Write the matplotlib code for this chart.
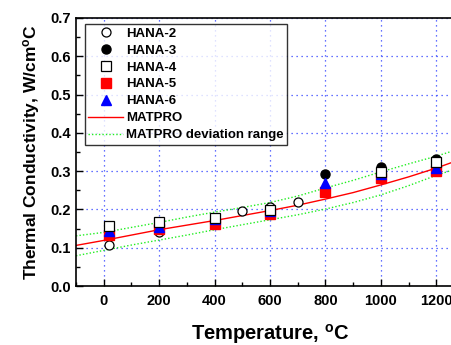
import numpy as np
import matplotlib
matplotlib.use('Agg')
import matplotlib.pyplot as plt
from matplotlib.ticker import MultipleLocator, FormatStrFormatter

plt.rcParams['font.family'] = ['Liberation Sans', 'DejaVu Sans']
plt.rcParams['font.weight'] = 'bold'
plt.rcParams['mathtext.fontset'] = 'custom'
plt.rcParams['mathtext.bf'] = 'Liberation Sans:bold'
plt.rcParams['mathtext.rm'] = 'Liberation Sans'
plt.rcParams['mathtext.default'] = 'rm'

# measured points
t_h2 = [20, 200, 400, 500, 600, 700]
k_h2 = [0.107, 0.140, 0.178, 0.195, 0.206, 0.220]
t_h3 = [800, 1000, 1200]
k_h3 = [0.293, 0.310, 0.332]
t_h4 = [20, 200, 400, 600, 1000, 1200]
k_h4 = [0.158, 0.167, 0.178, 0.198, 0.298, 0.323]
t_h5 = [20, 200, 400, 600, 800, 1000, 1200]
k_h5 = [0.132, 0.150, 0.163, 0.189, 0.246, 0.283, 0.300]
t_h6 = [20, 200, 400, 600, 800, 1000, 1200]
k_h6 = [0.144, 0.154, 0.175, 0.196, 0.270, 0.292, 0.308]

# MATPRO curve and deviation band, read every 100 C
t_mat = [-100, 0, 100, 200, 300, 400, 500, 600, 700, 800, 900, 1000, 1100, 1200, 1300]
k_mat = [0.106, 0.119, 0.133, 0.147, 0.159, 0.171, 0.184, 0.197, 0.211, 0.227,
         0.244, 0.264, 0.285, 0.308, 0.334]
k_up = [0.131, 0.140, 0.153, 0.166, 0.180, 0.193, 0.205, 0.218, 0.235, 0.256,
        0.276, 0.298, 0.319, 0.339, 0.362]
k_lo = [0.079, 0.093, 0.107, 0.120, 0.133, 0.147, 0.160, 0.173, 0.186, 0.201,
        0.218, 0.238, 0.262, 0.289, 0.313]

fig = plt.figure(figsize=(4.52, 3.45), dpi=100)
ax = fig.add_axes([76 / 452, 59 / 345, 388 / 452, 268 / 345])

ax.plot(t_mat, k_mat, color='red', lw=1.0, zorder=2, label='MATPRO')
ax.plot(t_mat, k_up, color='#22ee22', lw=1.0, ls=(0, (1, 1.5)), zorder=2,
        label='MATPRO deviation range')
ax.plot(t_mat, k_lo, color='#22ee22', lw=1.0, ls=(0, (1, 1.5)), zorder=2)

ms = 6.5
ax.plot(t_h2, k_h2, 'o', mfc='white', mec='black', mew=0.9, ms=ms, ls='none', label='HANA-2', zorder=3)
ax.plot(t_h3, k_h3, 'o', mfc='black', mec='black', ms=ms, ls='none', label='HANA-3', zorder=3)
ax.plot(t_h4, k_h4, 's', mfc='white', mec='black', mew=0.9, ms=ms, ls='none', label='HANA-4', zorder=4)
ax.plot(t_h5, k_h5, 's', mfc='red', mec='red', ms=ms, ls='none', label='HANA-5', zorder=3)
ax.plot(t_h6, k_h6, '^', mfc='blue', mec='blue', ms=ms, ls='none', label='HANA-6', zorder=3)

ax.set_xlim(-100, 1300)
ax.set_ylim(0, 0.7)
ax.xaxis.set_major_locator(MultipleLocator(200))
ax.xaxis.set_minor_locator(MultipleLocator(100))
ax.yaxis.set_major_locator(MultipleLocator(0.1))
ax.yaxis.set_minor_locator(MultipleLocator(0.05))
ax.yaxis.set_major_formatter(FormatStrFormatter('%.1f'))
ax.tick_params(which='both', direction='in', labelsize=10.5, width=1)
ax.tick_params(which='major', length=5)
ax.tick_params(which='minor', length=3)
ax.tick_params(axis='x', pad=6)
for s in ax.spines.values():
    s.set_linewidth(1.2)

ax.grid(True, which='major', color='#3344ff', ls=(0, (1, 3)), lw=0.9, zorder=1)

ax.set_xlabel(r'Temperature, $^{\mathrm{o}}$C', fontsize=14.5, fontweight='bold', va='baseline')
ax.set_ylabel(r'Thermal Conductivity, W/cm$^{\mathrm{o}}$C', fontsize=12.5, fontweight='bold', labelpad=6)
ax.xaxis.set_label_coords((270 - 76) / 388, -(340 - 286) / 268)

h, l = ax.get_legend_handles_labels()
order = [2, 3, 4, 5, 6, 0, 1]
leg = ax.legend([h[i] for i in order], [l[i] for i in order],
                loc='upper left', bbox_to_anchor=((85 - 76) / 388, (321 - 59) / 268),
                fontsize=9.5, frameon=True, fancybox=False, edgecolor='black',
                borderpad=0.25, labelspacing=0.36, handlelength=2.65, handletextpad=0.2,
                borderaxespad=0)
leg.get_frame().set_linewidth(1.0)

plt.savefig('out.png', dpi=100)
